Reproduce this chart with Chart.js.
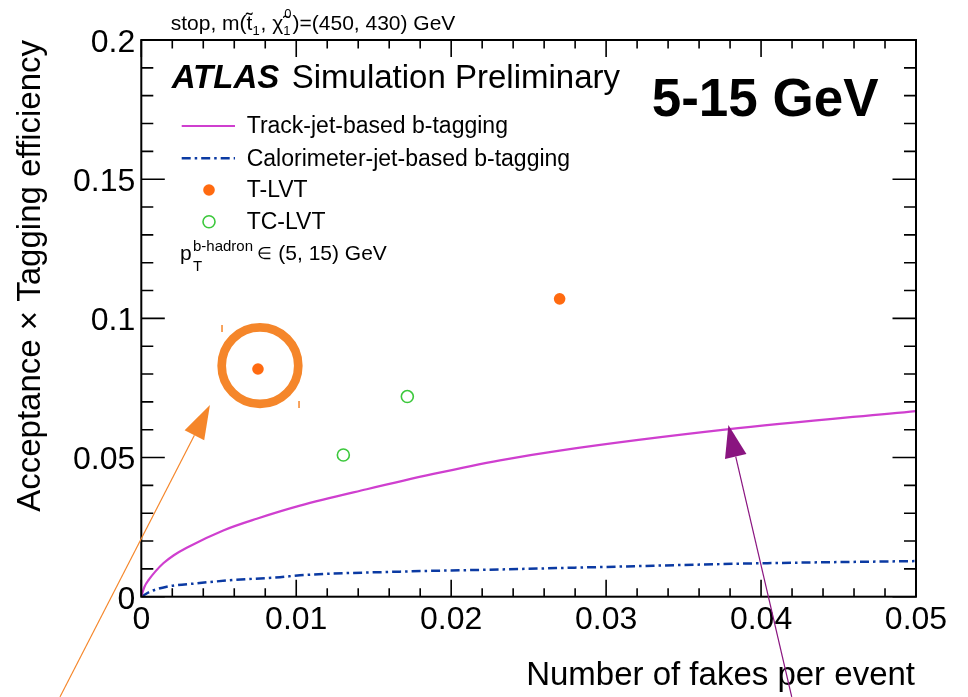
<!DOCTYPE html>
<html>
<head>
<meta charset="utf-8">
<script src="https://cdn.jsdelivr.net/npm/chart.js@4/dist/chart.umd.min.js"></script>
<style>
html,body{margin:0;padding:0;background:#fff;}
#wrap{width:968px;height:697px;position:relative;}
</style>
</head>
<body>
<div id="wrap"><canvas id="c"></canvas></div>
<script>
// ---- data ----
const trackX = [0, 0.0002, 0.0005, 0.0009, 0.00142, 0.0021, 0.00293, 0.00529, 0.00745, 0.01024, 0.01455, 0.01885, 0.02315, 0.0270, 0.0378, 0.05];
const trackY = [0, 0.0035, 0.0062, 0.0090, 0.0120, 0.0149, 0.0176, 0.0238, 0.0280, 0.0327, 0.0386, 0.0441, 0.0490, 0.0525, 0.0601, 0.0667];
const caloX = [0, 0.00056, 0.00164, 0.00357, 0.00594, 0.00895, 0.01024, 0.0167, 0.0232, 0.0270, 0.0399, 0.05];
const caloY = [0, 0.0018, 0.0036, 0.0048, 0.0060, 0.0070, 0.0077, 0.0090, 0.0098, 0.0103, 0.0120, 0.0128];
const tlvtX = [0.00753, 0.0270];
const tlvtY = [0.0818, 0.1070];
const tclvtX = [0.01304, 0.01717];
const tclvtY = [0.0509, 0.0719];
const xTickValues = [0, 0.01, 0.02, 0.03, 0.04, 0.05];
const xTickLabels = ["0", "0.01", "0.02", "0.03", "0.04", "0.05"];
const yTickValues = [0, 0.05, 0.1, 0.15, 0.2];
const yTickLabels = ["0", "0.05", "0.1", "0.15", "0.2"];
const seriesNames = ["Track-jet-based b-tagging", "Calorimeter-jet-based b-tagging", "T-LVT", "TC-LVT"];
const xTitle = "Number of fakes per event";
const yTitle = "Acceptance \u00d7 Tagging efficiency";
// annotation anchors in data units
const ringCenter = [0.00766, 0.0830];
const orangeArrow = [[-0.00525, -0.0360], [0.00443, 0.0689]];
const purpleArrow = [[0.04198, -0.0360], [0.03789, 0.0617]];
const orangeMarks = [[0.00521, 0.0976, 0.0951], [0.01018, 0.0703, 0.0678]];

const FONT = '"Liberation Sans", Arial, Helvetica, sans-serif';
Chart.defaults.font.family = FONT;
Chart.defaults.color = '#000';

const C_TRACK = '#cf3fcf', C_CALO = '#0b3aa3', C_TLVT = '#ff6a10', C_TC = '#3cc83c';
const C_ORANGE = '#f5862a', C_PURPLE = '#8a1580';

const pts = (xs, ys) => xs.map((x, i) => ({x, y: ys[i]}));

function arrow(ctx, x0, y0, x1, y1, color, lw, L, hw) {
  const dx = x1 - x0, dy = y1 - y0, n = Math.hypot(dx, dy);
  const ux = dx / n, uy = dy / n, px = -uy, py = ux;
  const bx = x1 - ux * L, by = y1 - uy * L;
  ctx.save();
  ctx.strokeStyle = color; ctx.fillStyle = color; ctx.lineWidth = lw;
  ctx.beginPath(); ctx.moveTo(x0, y0); ctx.lineTo(bx, by); ctx.stroke();
  ctx.beginPath(); ctx.moveTo(x1, y1); ctx.lineTo(bx + px * hw, by + py * hw); ctx.lineTo(bx - px * hw, by - py * hw); ctx.closePath(); ctx.fill();
  ctx.restore();
}

const deco = {
  id: 'deco',
  afterDraw(chart) {
    const ctx = chart.ctx, a = chart.chartArea, xs = chart.scales.x, ys = chart.scales.y;
    ctx.save();
    // ticks (inward, mirrored)
    ctx.strokeStyle = '#000'; ctx.lineWidth = 1.6;
    ctx.beginPath();
    for (let i = 0; i <= 25; i++) {
      const v = i * 0.002, p = xs.getPixelForValue(v);
      const len = (i % 5 === 0) ? 17 : 8.5;
      ctx.moveTo(p, a.bottom); ctx.lineTo(p, a.bottom - len);
      ctx.moveTo(p, a.top); ctx.lineTo(p, a.top + len);
    }
    for (let i = 0; i <= 20; i++) {
      const v = i * 0.01, p = ys.getPixelForValue(v);
      const len = (i % 5 === 0) ? 23.5 : 12;
      ctx.moveTo(a.left, p); ctx.lineTo(a.left + len, p);
      ctx.moveTo(a.right, p); ctx.lineTo(a.right - len, p);
    }
    ctx.stroke();
    ctx.lineWidth = 2;
    ctx.strokeRect(a.left, a.top, a.right - a.left, a.bottom - a.top);

    // axis titles
    ctx.fillStyle = '#000';
    ctx.font = '33px ' + FONT;
    ctx.textAlign = 'right'; ctx.textBaseline = 'alphabetic';
    ctx.fillText(xTitle, 915, 685);
    ctx.save();
    ctx.translate(39.5, 40); ctx.rotate(-Math.PI / 2);
    ctx.fillText(yTitle, 0, 0);
    ctx.restore();

    // top title
    ctx.textAlign = 'left';
    let x = 170.7; const by = 30;
    const big = '21px ' + FONT, small = '13px ' + FONT;
    const put = (t, f, dy) => { ctx.font = f; ctx.fillText(t, x, by + (dy || 0)); return ctx.measureText(t).width; };
    x += put('stop, m(', big);
    x += put('t\u0303', big);
    x += put('1', small, 5) + 1;
    x += put(', ', big);
    x += put('\u03c7\u0303', big);
    { ctx.font = small; ctx.fillText('0', x + 1, by - 12); const w = put('1', small, 5); x += w + 2; }
    x += put(')=(450, 430) GeV', big);

    // ATLAS label
    ctx.font = 'italic bold 33px ' + FONT;
    ctx.fillText('ATLAS', 171.7, 88.3);
    ctx.font = '33px ' + FONT;
    ctx.fillText('Simulation Preliminary', 291.7, 88.3);

    ctx.font = 'bold 53px ' + FONT;
    ctx.fillText('5-15 GeV', 651.7, 116);

    // legend
    ctx.font = '23px ' + FONT;
    ctx.lineWidth = 2.2; ctx.strokeStyle = C_TRACK;
    ctx.beginPath(); ctx.moveTo(181.7, 126); ctx.lineTo(235, 126); ctx.stroke();
    ctx.fillText(seriesNames[0], 246.7, 133.3);
    ctx.strokeStyle = C_CALO; ctx.lineWidth = 2.5; ctx.setLineDash([9, 4, 2.5, 4]);
    ctx.beginPath(); ctx.moveTo(181.7, 158.3); ctx.lineTo(235, 158.3); ctx.stroke();
    ctx.setLineDash([]);
    ctx.fillText(seriesNames[1], 246.7, 165.5);
    ctx.fillStyle = C_TLVT; ctx.beginPath(); ctx.arc(209, 190, 5.8, 0, 2 * Math.PI); ctx.fill();
    ctx.fillStyle = '#000'; ctx.fillText(seriesNames[2], 246.7, 197);
    ctx.strokeStyle = C_TC; ctx.lineWidth = 1.6; ctx.beginPath(); ctx.arc(209, 221.7, 6, 0, 2 * Math.PI); ctx.stroke();
    ctx.fillText(seriesNames[3], 246.7, 228.5);
    ctx.font = '21px ' + FONT; ctx.fillText('p', 180, 260);
    ctx.font = '15px ' + FONT; ctx.fillText('b-hadron', 193, 251); ctx.fillText('T', 193, 271);
    ctx.font = '17px ' + FONT; ctx.fillText('\u2208', 257, 259);
    ctx.font = '21px ' + FONT; ctx.fillText('(5, 15) GeV', 278.3, 260);

    // annotations
    const P = (d) => [xs.getPixelForValue(d[0]), ys.getPixelForValue(d[1])];
    const rc = P(ringCenter);
    ctx.strokeStyle = C_ORANGE; ctx.lineWidth = 8.7;
    ctx.beginPath(); ctx.arc(rc[0], rc[1], 38.3, 0, 2 * Math.PI); ctx.stroke();
    ctx.lineWidth = 1.5; ctx.beginPath();
    orangeMarks.forEach(m => { const px = xs.getPixelForValue(m[0]); ctx.moveTo(px, ys.getPixelForValue(m[1])); ctx.lineTo(px, ys.getPixelForValue(m[2])); });
    ctx.stroke();
    const oa0 = P(orangeArrow[0]), oa1 = P(orangeArrow[1]);
    arrow(ctx, oa0[0], oa0[1], oa1[0], oa1[1], C_ORANGE, 1.2, 34, 11);
    const pa0 = P(purpleArrow[0]), pa1 = P(purpleArrow[1]);
    arrow(ctx, pa0[0], pa0[1], pa1[0], pa1[1], C_PURPLE, 1.2, 32.4, 11);
    ctx.restore();
  }
};

new Chart(document.getElementById('c'), {
  type: 'scatter',
  data: {
    datasets: [
      { label: seriesNames[0], data: pts(trackX, trackY), showLine: true, borderColor: C_TRACK, borderWidth: 2.2, pointRadius: 0, cubicInterpolationMode: 'monotone', fill: false },
      { label: seriesNames[1], data: pts(caloX, caloY), showLine: true, borderColor: C_CALO, borderWidth: 2.5, borderDash: [9, 4, 2.5, 4], pointRadius: 0, cubicInterpolationMode: 'monotone', fill: false },
      { label: seriesNames[2], data: pts(tlvtX, tlvtY), pointRadius: 5.8, pointBackgroundColor: C_TLVT, pointBorderColor: C_TLVT, pointBorderWidth: 0 },
      { label: seriesNames[3], data: pts(tclvtX, tclvtY), pointRadius: 6, pointBackgroundColor: 'rgba(0,0,0,0)', pointBorderColor: C_TC, pointBorderWidth: 1.6 }
    ]
  },
  options: {
    responsive: true, maintainAspectRatio: false, animation: false,
    layout: { padding: { top: 40, right: 52, left: 0, bottom: 0 } },
    plugins: { legend: { display: false }, tooltip: { enabled: false } },
    scales: {
      x: {
        type: 'linear', min: 0, max: 0.05,
        grid: { display: false, drawTicks: false }, border: { display: false },
        ticks: { stepSize: 0.01, autoSkip: false, maxRotation: 0, padding: 4, font: { size: 32 },
          callback: (v) => { const i = xTickValues.findIndex(t => Math.abs(t - v) < 1e-9); return i >= 0 ? xTickLabels[i] : ''; } },
        afterFit: (s) => { s.height = 100.3; }
      },
      y: {
        type: 'linear', min: 0, max: 0.2,
        grid: { display: false, drawTicks: false }, border: { display: false },
        ticks: { stepSize: 0.05, autoSkip: false, padding: 6, labelOffset: 3, font: { size: 32 },
          callback: (v) => { const i = yTickValues.findIndex(t => Math.abs(t - v) < 1e-9); return i >= 0 ? yTickLabels[i] : ''; } },
        afterFit: (s) => { s.width = 141.3; }
      }
    }
  },
  plugins: [deco]
});
</script>
</body>
</html>
